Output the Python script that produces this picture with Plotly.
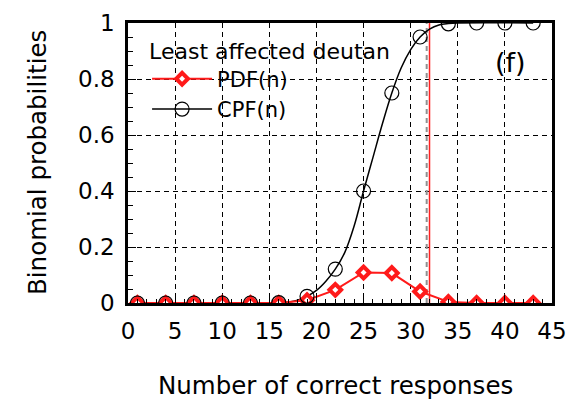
import plotly.graph_objects as go

# Marker data (every 3rd count)
n_pts = [1, 4, 7, 10, 13, 16, 19, 22, 25, 28, 31, 34, 37, 40, 43]
pdf_vals = [0, 0, 0, 0, 0, 0, 0.01, 0.047, 0.109, 0.107, 0.041, 0.004, 0, 0, 0]
cpf_vals = [0, 0, 0, 0, 0, 0.001, 0.024, 0.121, 0.40, 0.75, 0.95, 0.997, 1.0, 1.0, 1.0]

# Continuous CPF curve
curve_n = [1, 16, 17, 18, 19, 20, 21, 22, 23, 24, 25, 26, 27, 28, 29, 30, 31, 32, 33, 34, 35, 43]
curve_v = [0, 0.0, 0.003, 0.01, 0.024, 0.045, 0.078, 0.121, 0.18, 0.275, 0.40, 0.52, 0.64, 0.75,
           0.84, 0.905, 0.95, 0.978, 0.993, 0.998, 1.0, 1.0]

threshold = 32
threshold_gray = 31.7

x_ticks = [0, 5, 10, 15, 20, 25, 30, 35, 40, 45]
y_ticks = [0, 0.2, 0.4, 0.6, 0.8, 1]
y_tick_text = ["0", "0.2", "0.4", "0.6", "0.8", "1"]

label_pos = (40.6, 0.86)

FONT = "DejaVu Sans, Liberation Sans, Arial, sans-serif"

fig = go.Figure()

# threshold lines
fig.add_trace(go.Scatter(x=[threshold_gray, threshold_gray], y=[0, 1], mode="lines",
                         line=dict(color="#909090", width=2, dash="5px,4px"),
                         showlegend=False, hoverinfo="skip"))
fig.add_trace(go.Scatter(x=[threshold, threshold], y=[0, 1], mode="lines",
                         line=dict(color="#ff2020", width=1.5),
                         showlegend=False, hoverinfo="skip"))

# CPF smooth curve
fig.add_trace(go.Scatter(x=curve_n, y=curve_v, mode="lines", line=dict(color="black", width=1.5, shape="spline"),
                         showlegend=False, hoverinfo="skip", legendgroup="cpf"))

# PDF
fig.add_trace(go.Scatter(x=n_pts, y=pdf_vals, mode="lines+markers", name="PDF(n)",
                         line=dict(color="#ff1a1a", width=2),
                         marker=dict(symbol="diamond", size=9, color="white",
                                     line=dict(color="#ff1a1a", width=4))))

# CPF markers
fig.add_trace(go.Scatter(x=n_pts, y=cpf_vals, mode="markers", name="CPF(n)", showlegend=False,
                         legendgroup="cpf",
                         marker=dict(symbol="circle-open", size=14, color="black",
                                     line=dict(color="black", width=1.2))))
# legend entry for CPF (line + marker sample)
fig.add_trace(go.Scatter(x=[None], y=[None], mode="lines+markers", name="CPF(n)", legendgroup="cpf",
                         line=dict(color="black", width=1.5),
                         marker=dict(symbol="circle-open", size=14, color="black",
                                     line=dict(color="black", width=1.2))))

fig.add_annotation(x=label_pos[0], y=label_pos[1], xref="x", yref="y", text="(f)", showarrow=False,
                   font=dict(family=FONT, size=27, color="black"))

fig.add_annotation(x=0.5, y=0, xref="paper", yref="paper", yshift=-82, xshift=-5,
                   xanchor="center", yanchor="middle", text="Number of correct responses",
                   showarrow=False, font=dict(family=FONT, size=24.5, color="black"))
fig.add_annotation(x=0, y=0.5, xref="paper", yref="paper", xshift=-91, xanchor="center", yanchor="middle",
                   text="Binomial probabilities",
                   textangle=-90, showarrow=False, font=dict(family=FONT, size=24.5, color="black"))

fig.update_layout(
    width=571, height=405,
    margin=dict(l=128, r=19, t=23, b=102),
    paper_bgcolor="white", plot_bgcolor="white",
    font=dict(family=FONT, size=21, color="black"),
    showlegend=True,
    legend=dict(x=0.045, y=0.975, xanchor="left", yanchor="top", bgcolor="rgba(0,0,0,0)",
                title=dict(text="Least affected deutan", font=dict(size=22)),
                font=dict(size=21), tracegroupgap=0, itemwidth=60),
)
fig.update_xaxes(range=[0, 45], tickvals=x_ticks, showgrid=True, gridcolor="black", griddash="5px,4px",
                 gridwidth=1.2, showline=True, linecolor="black", linewidth=2.5, mirror=True,
                 ticks="inside", ticklen=8, tickcolor="black", ticklabelstandoff=6,
                 ticklabeloverflow="allow", automargin=False,
                 tickfont=dict(size=23),
                 minor=dict(dtick=1, ticks="inside", ticklen=4, tickcolor="black", showgrid=False),
                 zeroline=False)
fig.update_yaxes(range=[0, 1], tickvals=y_ticks, ticktext=y_tick_text, showgrid=True, gridcolor="black",
                 griddash="5px,4px", gridwidth=1.2, showline=True, linecolor="black", linewidth=2.5, mirror=True,
                 ticks="inside", ticklen=8, tickcolor="black", ticklabelstandoff=6,
                 ticklabeloverflow="allow", automargin=False,
                 tickfont=dict(size=23),
                 minor=dict(dtick=0.05, ticks="inside", ticklen=5, tickcolor="black", showgrid=False),
                 zeroline=False)

fig.write_html("out.html", config={"displayModeBar": False},
               post_script="document.body.style.margin='0';")
